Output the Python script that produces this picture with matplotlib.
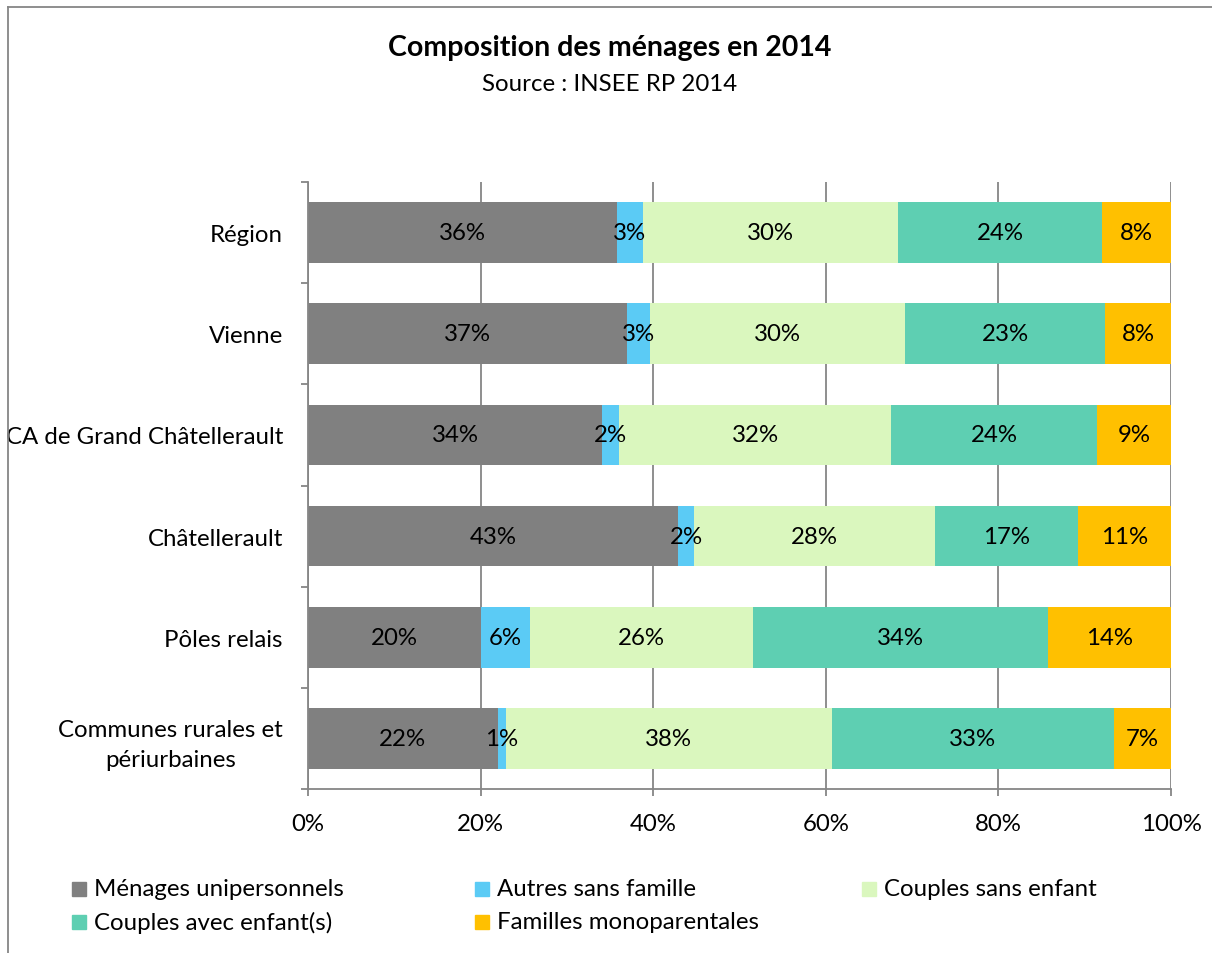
import matplotlib
matplotlib.use("Agg")
import matplotlib.pyplot as plt
from matplotlib.patches import Rectangle
from matplotlib.lines import Line2D
import numpy as np

plt.rcParams['font.family'] = ['Lato', 'DejaVu Sans']

# données (en %)
territoires = ['Région', 'Vienne', 'CA de Grand Châtellerault', 'Châtellerault',
               'Pôles relais', 'Communes rurales et\npériurbaines']
menages_uni = [35.8, 37.0, 34.1, 42.9, 20.0, 22.0]
autres_sans_fam = [3.0, 2.6, 1.9, 1.8, 5.7, 0.9]
couples_sans = [29.6, 29.6, 31.6, 27.9, 25.9, 37.8]
couples_avec = [23.6, 23.2, 23.8, 16.6, 34.1, 32.7]
familles_mono = [8.0, 7.6, 8.6, 10.8, 14.3, 6.6]

series = ['Ménages unipersonnels', 'Autres sans famille', 'Couples sans enfant',
          'Couples avec enfant(s)', 'Familles monoparentales']
couleurs = ['#808080', '#5BCBF5', '#DAF7BE', '#5ECFB2', '#FFC000']
xticks = [0, 20, 40, 60, 80, 100]

gris = '#868686'
fs = 17.3

fig = plt.figure(figsize=(12.12, 9.54), dpi=100)
ax = fig.add_axes([308 / 1212, 1 - 790 / 954, (1171 - 308) / 1212, (790 - 183) / 954])

y = np.arange(len(territoires))
gauche = np.zeros(len(territoires))
for nom, vals, c in zip(series, [menages_uni, autres_sans_fam, couples_sans, couples_avec, familles_mono], couleurs):
    vals = np.array(vals)
    bars = ax.barh(y, vals, left=gauche, height=0.6, color=c, label=nom, zorder=2)
    for b, v in zip(bars, vals):
        ax.text(b.get_x() + b.get_width() / 2, b.get_y() + b.get_height() / 2,
                f"{v:.0f}%", ha='center', va='center', fontsize=fs, color='black', zorder=3)
    gauche += vals

ax.set_xlim(0, 100)
ax.set_ylim(len(territoires) - 0.5, -0.5)
ax.set_xticks(xticks)
ax.set_xticklabels([f"{t}%" for t in xticks], fontsize=fs)
ax.set_yticks(y)
ax.set_yticklabels(territoires, fontsize=fs, ha='right', multialignment='center', linespacing=1.5)
ax.set_yticks(np.arange(-0.5, len(territoires), 1), minor=True)
ax.tick_params(axis='y', which='major', length=0, pad=18)
ax.tick_params(axis='y', which='minor', length=5, width=1.3, color=gris, direction='out')
ax.tick_params(axis='x', which='major', length=5, width=1.3, color=gris, pad=12)

ax.grid(axis='x', color=gris, linewidth=1.3, zorder=0)
for s in ['top', 'right']:
    ax.spines[s].set_visible(False)
for s in ['left', 'bottom']:
    ax.spines[s].set_color(gris)
    ax.spines[s].set_linewidth(1.3)
    ax.spines[s].set_zorder(3)

# titre
fig.text(610 / 1212, 1 - 48 / 954, 'Composition des ménages en 2014', ha='center', va='center',
         fontsize=20.5, fontweight='bold')
fig.text(610 / 1212, 1 - 85 / 954, 'Source : INSEE RP 2014', ha='center', va='center', fontsize=fs)

# légende
pos = [(72, 890), (475, 890), (862, 890), (72, 923), (475, 923)]
for (px, py), nom, c in zip(pos, series, couleurs):
    fig.add_artist(Rectangle((px / 1212, 1 - (py + 7) / 954), 14 / 1212, 14 / 954,
                             transform=fig.transFigure, color=c))
    fig.text((px + 22) / 1212, 1 - py / 954, nom, ha='left', va='center', fontsize=fs)

# cadre
fig.add_artist(Line2D([8 / 1212, 1], [1 - 8 / 954, 1 - 8 / 954], transform=fig.transFigure,
                      color=gris, linewidth=1.3))
fig.add_artist(Line2D([8 / 1212, 8 / 1212], [0, 1 - 8 / 954], transform=fig.transFigure,
                      color=gris, linewidth=1.3))

fig.savefig('out.png', dpi=100)
